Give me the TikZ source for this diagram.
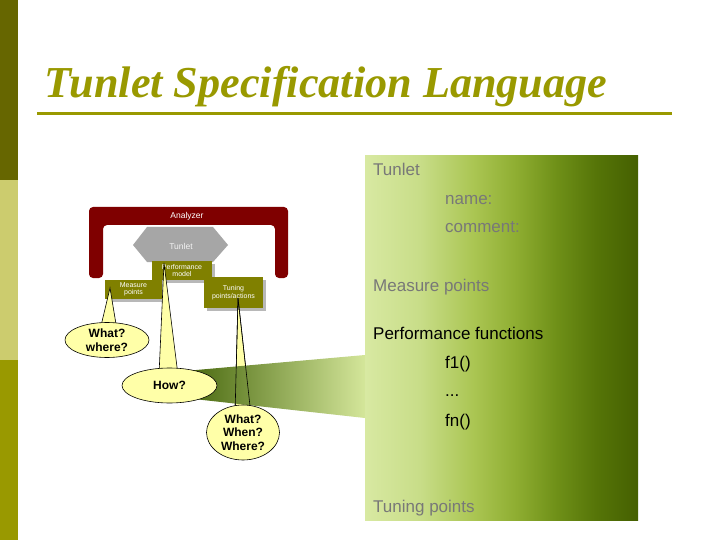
\documentclass[tikz,border=0pt]{standalone}
\usepackage{fontspec}
\setmainfont{Liberation Serif}
\setsansfont{Liberation Sans}
\usetikzlibrary{shapes.geometric}
\definecolor{barA}{HTML}{666600}
\definecolor{barB}{HTML}{CCCC6E}
\definecolor{barC}{HTML}{999900}
\definecolor{titlecol}{HTML}{999900}
\definecolor{frame}{HTML}{7F0000}
\definecolor{olivebox}{HTML}{808000}
\definecolor{shadowc}{HTML}{B8B8B8}
\definecolor{hexc}{HTML}{A6A6A6}
\definecolor{bubble}{HTML}{FFFFA8}
\definecolor{pA}{HTML}{D8E9A2}
\definecolor{pB}{HTML}{C8DD88}
\definecolor{pC}{HTML}{AAC552}
\definecolor{pD}{HTML}{8FAE32}
\definecolor{pE}{HTML}{6F9018}
\definecolor{pF}{HTML}{557408}
\definecolor{pG}{HTML}{456000}
\definecolor{wdark}{HTML}{46660C}
\definecolor{wlight}{HTML}{D4E69A}
\definecolor{graytxt}{HTML}{787878}
\pgfdeclarehorizontalshading{panelsh}{100bp}{color(0bp)=(pA); color(25bp)=(pA); color(35bp)=(pB); color(45bp)=(pC); color(52.5bp)=(pD); color(60bp)=(pE); color(67.5bp)=(pF); color(75bp)=(pG); color(100bp)=(pG)}
\tikzset{
  olbox/.style={fill=olivebox, text=white, font=\sffamily\fontsize{7}{7.5}\selectfont, align=center, inner sep=0pt},
  shadowbox/.style={fill=shadowc},
  callout/.style={fill=bubble, draw=black, line width=0.6pt},
  bubtxt/.style={font=\sffamily\bfseries\fontsize{12}{13.5}\selectfont, align=center},
  paneltxt/.style={font=\sffamily\fontsize{17}{20}\selectfont, anchor=base west, inner sep=0pt},
}
\begin{document}
\begin{tikzpicture}[x=1pt,y=-1pt]
\useasboundingbox (0,0) rectangle (720,540);
\fill[white] (0,0) rectangle (720,540);
% left bar
\fill[barA] (0,0) rectangle (18,180);
\fill[barB] (0,180) rectangle (18,360);
\fill[barC] (0,360) rectangle (18,540);
% title
\node[anchor=base west, inner sep=0pt, text=titlecol, font=\fontsize{44.2}{50}\selectfont\bfseries\itshape] (title) at (44,98) {Tunlet Specification Language};
\fill[titlecol] (37,112) rectangle (672,115);
% analyzer frame
\fill[frame, rounded corners=4pt] (89,278) -- (89,207) -- (288,207) -- (288,278) -- (275,278) -- (275,225) -- (103,225) -- (103,278) -- cycle;
\node[text=white, font=\sffamily\fontsize{8.5}{9}\selectfont] (analyzer) at (187,216) {Analyzer};
% hexagon
\fill[hexc] (133,245) -- (147,227) -- (213,227) -- (228,245) -- (213,262) -- (147,262) -- cycle;
\node[text=white!90!gray, font=\sffamily\fontsize{8.5}{9}\selectfont] (tunlethex) at (181,246) {Tunlet};
% boxes with shadows
\fill[shadowbox] (155,264) rectangle (215,283);
\fill[shadowbox] (108,283) rectangle (165,302);
\fill[shadowbox] (207,280) rectangle (266,311);
\fill[olivebox] (152,261) rectangle (212,280);
\node[olbox] (perf) at (182,270.5) {Performance\\model};
\fill[olivebox] (105,280) rectangle (162,299);
\node[olbox] (meas) at (133.5,289.5) {Measure\\points};
\fill[olivebox] (204,277) rectangle (263,308);
\node[olbox] (tune) at (233.5,292.5) {Tuning\\points/actions};
% pointers
\coordinate (tip1) at (110,288);
\coordinate (tip2) at (164,263);
\coordinate (tip3) at (238,298);
\draw[callout] (100,330) -- (tip1) -- (117,330);
\draw[callout] (159,375) -- (tip2) -- (178,375);
\draw[callout] (235,415) -- (tip3) -- (251,415);
% wedge
\shade[left color=wdark, right color=wlight] (185,371) -- (365,355) -- (365,418) -- (185,398) -- cycle;
\draw[line width=0.6pt] (235,415) -- (tip3) -- (251,415);
% ellipses
\node[callout, ellipse, minimum width=84pt, minimum height=35pt, inner sep=0pt, bubtxt] (q1) at (107,340) {What?\\where?};
\node[callout, ellipse, minimum width=95pt, minimum height=35pt, inner sep=0pt, bubtxt] (q2) at (169.5,385.5) {How?};
\node[callout, ellipse, minimum width=73pt, minimum height=55pt, inner sep=0pt, bubtxt] (q3) at (243,432.5) {What?\\When?\\Where?};
% panel
\shade[shading=panelsh] (365,156) rectangle (638,520);
\node[paneltxt, text=graytxt] (t1) at (373,176) {Tunlet};
\node[paneltxt, text=graytxt] (t2) at (445,205) {name:};
\node[paneltxt, text=graytxt] (t3) at (445,233) {comment:};
\node[paneltxt, text=graytxt] (t4) at (373,291) {Measure points};
\node[paneltxt, text=black] (t5) at (373,339) {Performance functions};
\node[paneltxt, text=black] (t6) at (445,368) {f1()};
\node[paneltxt, text=black] (t7) at (445,396) {...};
\node[paneltxt, text=black] (t8) at (445,426) {fn()};
\node[paneltxt, text=graytxt] (t9) at (373,512) {Tuning points};
\end{tikzpicture}
\end{document}
